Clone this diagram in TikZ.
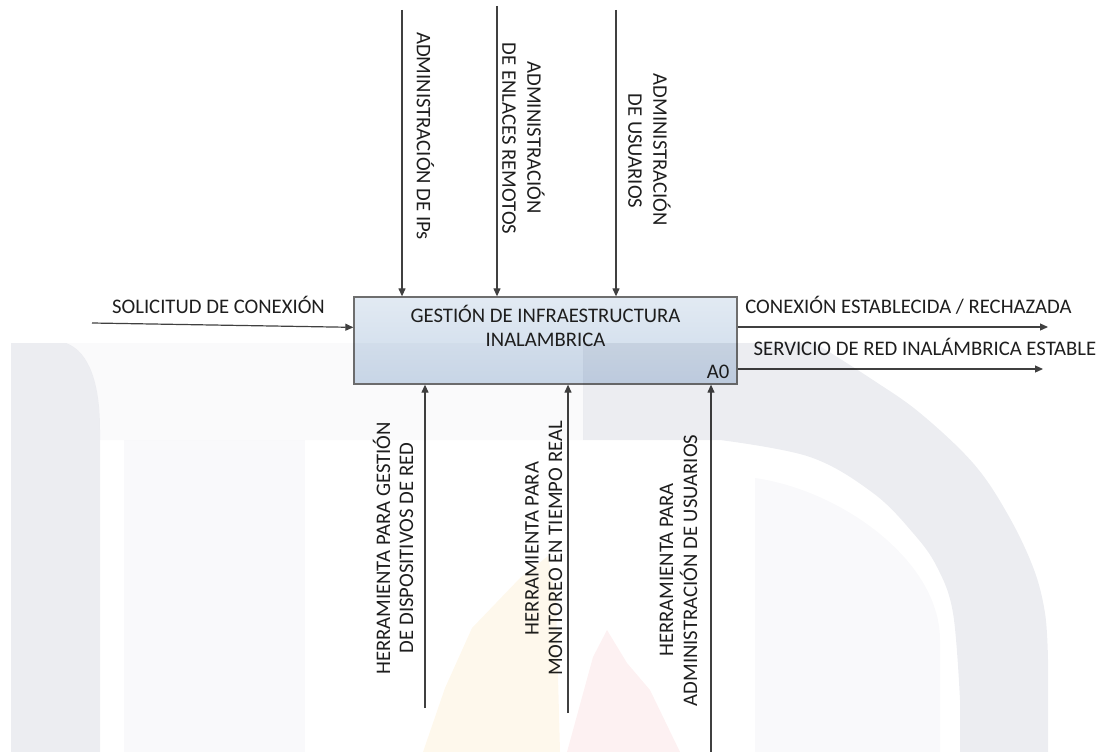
\documentclass[tikz,border=0pt]{standalone}
\usepackage{fontspec}
\setmainfont{Carlito}
\usetikzlibrary{arrows.meta,calc}

\definecolor{linegray}{RGB}{64,64,64}
\definecolor{textdark}{RGB}{30,30,30}
\definecolor{boxedge}{RGB}{110,110,110}
\definecolor{boxtop}{RGB}{226,234,243}
\definecolor{boxbot}{RGB}{204,218,234}
\definecolor{wmgray}{RGB}{236,237,241}
\definecolor{wmfaint}{RGB}{250,250,251}
\definecolor{wmpale}{RGB}{249,249,251}
\definecolor{wmyellow}{RGB}{254,248,236}
\definecolor{wmred}{RGB}{253,241,242}

\tikzset{
  flow/.style={draw=linegray, line width=1.2pt, -{Triangle[length=8pt,width=7pt]}},
  lbl/.style={inner sep=0pt, text=textdark, font=\fontsize{20.7}{24}\selectfont,
              text height=13.1pt, text depth=0pt},
  vlabup/.style={lbl, rotate=90},
  vlabdown/.style={lbl, rotate=-90},
  actbox/.style={draw=boxedge, line width=1.3pt, top color=boxtop, bottom color=boxbot,
                 minimum width=383pt, minimum height=87pt, inner sep=0pt},
}

\begin{document}
\begin{tikzpicture}[x=1pt,y=-1pt]
\useasboundingbox (0,0) rectangle (1103,752);

% activity box
\node[actbox] (act) at (545.5,340.5) {};
\node[lbl] (title1) at (545.5,316.4) {GESTIÓN DE INFRAESTRUCTURA};
\node[lbl] (title2) at (545.5,340) {INALAMBRICA};
\node[lbl] (code) at (718,371.7) {A0};

% controls (top)
\coordinate (c1) at (402,10);
\coordinate (c2) at (497,6);
\coordinate (c3) at (616,10);
\draw[flow] (c1) -- (c1 |- act.north);
\draw[flow] (c2) -- (c2 |- act.north);
\draw[flow] (c3) -- (c3 |- act.north);
\node[vlabdown] (c1lbl)  at (423.3,136)   {ADMINISTRACIÓN DE IPs};
\node[vlabdown] (c2lbla) at (534,137.5)   {ADMINISTRACIÓN};
\node[vlabdown] (c2lblb) at (509,138.5)   {DE ENLACES REMOTOS};
\node[vlabdown] (c3lbla) at (660,150)     {ADMINISTRACIÓN};
\node[vlabdown] (c3lblb) at (635,151)     {DE USUARIOS};

% input (left)
\coordinate (in1) at (92,323);
\draw[flow] (in1) -- ([yshift=-31pt]act.north west);
\node[lbl] (in1lbl) at (218.5,307) {SOLICITUD DE CONEXIÓN};

% outputs (right)
\coordinate (out1) at (1048,327);
\coordinate (out2) at (1043,369);
\draw[flow] (act.east |- out1) -- (out1);
\draw[flow] (act.east |- out2) -- (out2);
\node[lbl] (out1lbl) at (908.5,306.7) {CONEXIÓN ESTABLECIDA / RECHAZADA};
\node[lbl] (out2lbl) at (925,349.3) {SERVICIO DE RED INALÁMBRICA ESTABLE};

% mechanisms (bottom)
\coordinate (m1) at (425,708);
\coordinate (m2) at (568,713);
\coordinate (m3) at (711,752);
\draw[flow] (m1) -- (m1 |- act.south);
\draw[flow] (m2) -- (m2 |- act.south);
\draw[flow] (m3) -- (m3 |- act.south);
\node[vlabup] (m1lbla) at (383.5,548.5) {HERRAMIENTA PARA GESTIÓN};
\node[vlabup] (m1lblb) at (406.5,548)   {DE DISPOSITIVOS DE RED};
\node[vlabup] (m2lbla) at (532,548.5)   {HERRAMIENTA PARA};
\node[vlabup] (m2lblb) at (555.5,548.5) {MONITOREO EN TIEMPO REAL};
\node[vlabup] (m3lbla) at (666.5,570)   {HERRAMIENTA PARA};
\node[vlabup] (m3lblb) at (690.5,570.5) {ADMINISTRACIÓN DE USUARIOS};

% faint emblem printed behind the page content
\begin{scope}[blend mode=multiply]
  \fill[wmgray] (11,752) -- (11,343) -- (66,343)
        .. controls (90,352) and (100,385) .. (100,430) -- (100,752) -- cycle;
  \fill[wmfaint] (66,343) -- (583,343) -- (583,440) -- (100,440) -- (100,430)
        .. controls (100,385) and (90,352) .. (66,343) -- cycle;
  \fill[wmgray] (583,343) -- (815,343)
        -- plot[smooth,tension=0.6] coordinates {(815,343) (873,380) (920,413) (973,463) (1007,513) (1033,567) (1045,613) (1048,660)}
        -- (1048,752) -- (960,752)
        -- plot[smooth,tension=0.6] coordinates {(960,700) (953,613) (937,567) (913,533) (873,493) (810,457) (720,440)}
        -- (583,440) -- cycle;
  \fill[wmpale] (124,752) -- (124,440) -- (305,440) -- (305,752) -- cycle;
  \fill[wmpale] (755,752) -- (755,478) .. controls (840,490) and (940,560) .. (940,640)
        -- (940,752) -- cycle;
  \fill[wmyellow] (423,752) -- (445,688) -- (472,628) -- (520,578) -- (548,556)
        -- (556,600) -- (560,752) -- cycle;
  \fill[wmred] (567,752) -- (593,657) -- (607,630) -- (627,663) -- (650,690)
        -- (680,752) -- cycle;
\end{scope}
\end{tikzpicture}
\end{document}
